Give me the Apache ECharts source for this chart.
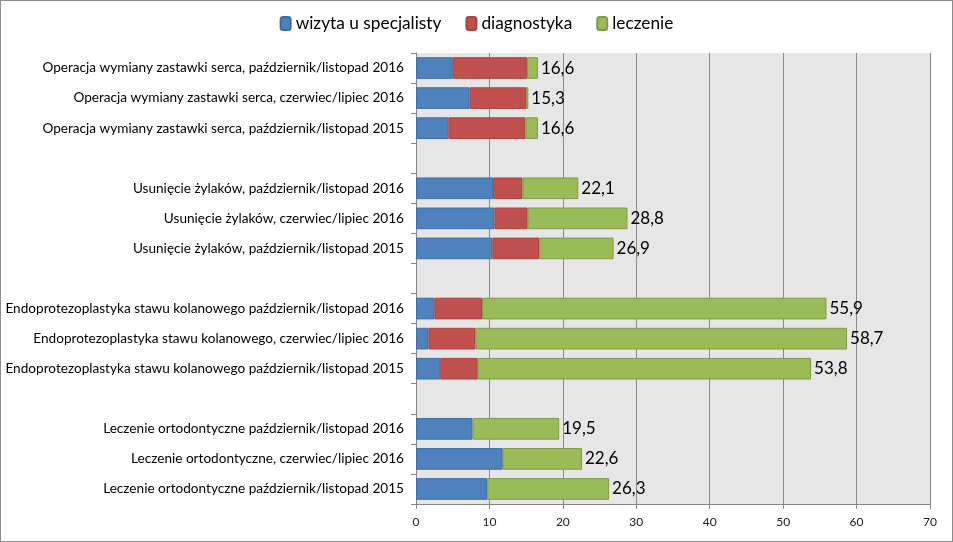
<!DOCTYPE html>
<html>
<head>
<meta charset="utf-8">
<script src="https://cdn.jsdelivr.net/npm/echarts@6/dist/echarts.min.js"></script>
<style>
html,body{margin:0;padding:0;background:#fff;}
#c{width:951px;height:540px;border:1px solid #8c8c8c;}
</style>
</head>
<body>
<div id="c"></div>
<script>
const categories = [
  'Operacja wymiany zastawki serca, październik/listopad 2016',
  'Operacja wymiany zastawki serca, czerwiec/lipiec 2016',
  'Operacja wymiany zastawki serca, październik/listopad 2015',
  '',
  'Usunięcie żylaków, październik/listopad 2016',
  'Usunięcie żylaków, czerwiec/lipiec 2016',
  'Usunięcie żylaków, październik/listopad 2015',
  '',
  'Endoprotezoplastyka stawu kolanowego październik/listopad 2016',
  'Endoprotezoplastyka stawu kolanowego, czerwiec/lipiec 2016',
  'Endoprotezoplastyka stawu kolanowego październik/listopad 2015',
  '',
  'Leczenie ortodontyczne październik/listopad 2016',
  'Leczenie ortodontyczne, czerwiec/lipiec 2016',
  'Leczenie ortodontyczne październik/listopad 2015'
];
const wizyta      = [5.0, 7.3, 4.4, null, 10.5, 10.7, 10.4, null, 2.5, 1.7, 3.3, null, 7.7, 11.8, 9.7];
const diagnostyka = [10.1, 7.7, 10.5, null, 4.0, 4.5, 6.4, null, 6.5, 6.4, 5.1, null, null, null, null];
const leczenie    = [1.5, 0.3, 1.7, null, 7.6, 13.6, 10.1, null, 46.9, 50.6, 45.4, null, 11.8, 10.8, 16.6];
const totals      = ['16,6', '15,3', '16,6', '', '22,1', '28,8', '26,9', '', '55,9', '58,7', '53,8', '', '19,5', '22,6', '26,3'];
const xTicks = [0, 10, 20, 30, 40, 50, 60, 70];

const chart = echarts.init(document.getElementById('c'));
const font = 'Lato, "Open Sans", sans-serif';
function bar(name, data, color, border, withLabel) {
  const s = {
    name: name, type: 'bar', stack: 'a', data: data,
    barCategoryGap: '28%',
    itemStyle: {color: color, borderColor: border, borderWidth: 1},
    emphasis: {disabled: true}
  };
  if (withLabel) {
    s.label = {
      show: true, position: 'right', distance: 3,
      fontSize: 17, color: '#000', fontFamily: font,
      formatter: p => totals[p.dataIndex]
    };
  }
  return s;
}
chart.setOption({
  animation: false,
  textStyle: {fontFamily: font},
  legend: {
    top: 9, left: 'center',
    itemWidth: 10, itemHeight: 13, itemGap: 24,
    textStyle: {fontSize: 17.3, color: '#000', fontFamily: font},
    data: ['wizyta u specjalisty', 'diagnostyka', 'leczenie']
  },
  grid: {left: 415, right: 22, top: 52, bottom: 37, containLabel: false,
         show: true, backgroundColor: '#e6e6e6', borderWidth: 0},
  xAxis: {
    type: 'value', min: xTicks[0], max: xTicks[xTicks.length - 1], interval: 10,
    axisLine: {show: true, lineStyle: {color: '#868686'}},
    axisTick: {show: true, length: 5, lineStyle: {color: '#868686'}},
    axisLabel: {fontSize: 12, color: '#222', margin: 12, fontFamily: font},
    splitLine: {show: true, lineStyle: {color: '#8a8a8a', width: 1}}
  },
  yAxis: {
    type: 'category', inverse: true, data: categories,
    axisLine: {show: true, lineStyle: {color: '#868686'}},
    axisTick: {show: true, length: 5, lineStyle: {color: '#868686'}},
    axisLabel: {fontSize: 13.6, color: '#000', margin: 12, fontFamily: font}
  },
  series: [
    bar('wizyta u specjalisty', wizyta, '#4f81bd', '#3d6da8', false),
    bar('diagnostyka', diagnostyka, '#c0504d', '#a84340', false),
    bar('leczenie', leczenie, '#9bbb59', '#7f9a48', true)
  ]
});
</script>
</body>
</html>
